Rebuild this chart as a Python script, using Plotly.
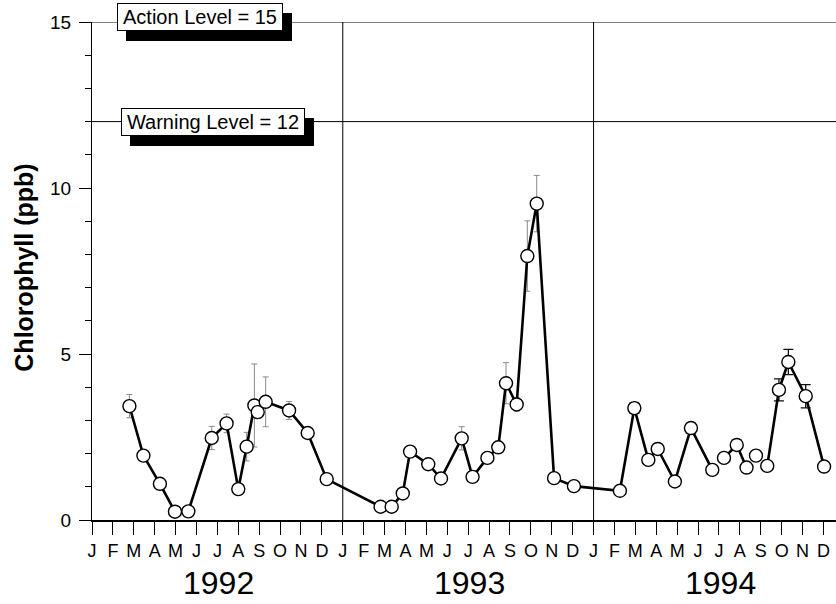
import plotly.graph_objects as go

# months since Jan 1992 (0 = Jan 1992)
months_1992 = [1.79, 2.46, 3.25, 3.97, 4.61, 5.73, 6.44, 7.00, 7.40, 7.77, 7.93, 8.31, 9.43, 10.32, 11.23]
chl_1992 = [3.43, 1.94, 1.09, 0.25, 0.26, 2.47, 2.91, 0.93, 2.21, 3.45, 3.25, 3.56, 3.30, 2.62, 1.23]
err_1992 = [0.35, 0.05, 0.05, 0.10, 0.10, 0.35, 0.28, 0.05, 0.43, 1.25, 0.10, 0.75, 0.27, 0.15, 0.08]

months_1993 = [13.81, 14.34, 14.87, 15.22, 16.09, 16.70, 17.69, 18.21, 18.92, 19.44, 19.81, 20.32, 20.83, 21.28, 22.11, 23.06]
chl_1993 = [0.40, 0.40, 0.80, 2.06, 1.68, 1.25, 2.46, 1.30, 1.87, 2.19, 4.12, 3.48, 7.95, 9.53, 1.26, 1.02]
err_1993 = [0.08, 0.08, 0.10, 0.05, 0.05, 0.05, 0.35, 0.12, 0.12, 0.15, 0.62, 0.20, 1.06, 0.85, 0.05, 0.05]

months_1994 = [25.26, 25.95, 26.62, 27.07, 27.89, 28.66, 29.68, 30.24, 30.85, 31.32, 31.77, 32.31, 32.87, 33.32, 34.15, 35.03]
chl_1994 = [0.88, 3.37, 1.81, 2.14, 1.16, 2.77, 1.51, 1.87, 2.26, 1.58, 1.94, 1.63, 3.92, 4.76, 3.73, 1.61]
err_1994 = [0.03, 0.15, 0.05, 0.05, 0.05, 0.15, 0.05, 0.10, 0.15, 0.10, 0.00, 0.00, 0.33, 0.38, 0.35, 0.00]
# line group ids (line is broken between groups)
group_1994 = [0, 0, 0, 0, 0, 0, 0, 1, 1, 1, 2, 3, 3, 3, 3, 3]

month_letters = ["J", "F", "M", "A", "M", "J", "J", "A", "S", "O", "N", "D"]
years = ["1992", "1993", "1994"]
action_level = 15
warning_level = 12

# build connecting line (continuous 1992-1993-early 1994, with gaps in 1994)
line_x = months_1992 + months_1993
line_y = chl_1992 + chl_1993
prev = group_1994[0]
for m, v, g in zip(months_1994, chl_1994, group_1994):
    if g != prev:
        line_x.append(None)
        line_y.append(None)
        prev = g
    line_x.append(m)
    line_y.append(v)

all_x = months_1992 + months_1993 + months_1994
all_y = chl_1992 + chl_1993 + chl_1994

FONT = "Liberation Sans, Arial, Helvetica, sans-serif"

fig = go.Figure()

# error bars (light for 1992-93, dark for 1994)
fig.add_trace(go.Scatter(
    x=months_1992 + months_1993, y=chl_1992 + chl_1993, mode="markers",
    marker=dict(size=1, color="rgba(0,0,0,0)"),
    error_y=dict(type="data", array=err_1992 + err_1993, color="#8a8a8a", thickness=1, width=3),
    hoverinfo="skip", showlegend=False, cliponaxis=False))
fig.add_trace(go.Scatter(
    x=months_1994, y=chl_1994, mode="markers",
    marker=dict(size=1, color="rgba(0,0,0,0)"),
    error_y=dict(type="data", array=err_1994, color="#111", thickness=1.3, width=5),
    hoverinfo="skip", showlegend=False, cliponaxis=False))

fig.add_trace(go.Scatter(
    x=line_x, y=line_y, mode="lines", line=dict(color="black", width=2.6),
    connectgaps=False, hoverinfo="skip", showlegend=False, cliponaxis=False))
fig.add_trace(go.Scatter(
    x=all_x, y=all_y, mode="markers",
    marker=dict(size=13, color="white", line=dict(color="black", width=1.4)),
    showlegend=False, cliponaxis=False))

shapes = []
for lvl in [action_level, warning_level]:
    shapes.append(dict(type="line", xref="paper", yref="y", x0=0, x1=1, y0=lvl, y1=lvl,
                       line=dict(color="black", width=1), layer="below"))
for yb in [12, 24]:
    shapes.append(dict(type="line", xref="x", yref="y", x0=yb, x1=yb, y0=0, y1=action_level,
                       line=dict(color="black", width=1), layer="below"))

annotations = []
labels = [(f"Action Level = {action_level}", action_level, 5.15, 5, 164),
          (f"Warning Level = {warning_level}", warning_level, 5.78, 0, 182)]
for text, lvl, xc, ysh, w in labels:
    # drop shadow (blank box)
    annotations.append(dict(x=xc, y=lvl, xref="x", yref="y", text=" ", showarrow=False,
                            font=dict(family=FONT, size=20, color="black"),
                            bgcolor="black", bordercolor="black", borderwidth=1, borderpad=0,
                            width=w, height=26, xshift=9, yshift=ysh - 10))
    annotations.append(dict(x=xc, y=lvl, xref="x", yref="y", text=text, showarrow=False,
                            font=dict(family=FONT, size=20, color="black"),
                            bgcolor="white", bordercolor="black", borderwidth=1, borderpad=0,
                            width=w, height=26, yshift=ysh))

for i, yr in enumerate(years):
    annotations.append(dict(x=12 * i + 6.05, y=0, xref="x", yref="paper", text=yr, showarrow=False,
                            yanchor="bottom", yshift=-83,
                            font=dict(family=FONT, size=32, color="black")))

annotations.append(dict(x=0, y=7.6, xref="paper", yref="y", text="<b>Chlorophyll (ppb)</b>",
                        showarrow=False, textangle=-90, xanchor="center", yanchor="middle",
                        xshift=-68, font=dict(family=FONT, size=25, color="black")))

fig.update_layout(
    width=836, height=604,
    margin=dict(l=92, r=0, t=22, b=84),
    paper_bgcolor="white", plot_bgcolor="white",
    shapes=shapes, annotations=annotations,
    font=dict(family=FONT, color="black"),
    xaxis=dict(range=[0, 35.6], tickvals=list(range(36)), ticktext=month_letters * 3,
               ticks="outside", ticklen=13, tickwidth=1, tickcolor="black",
               showline=True, linecolor="black", linewidth=1.5,
               showgrid=False, zeroline=False, tickfont=dict(size=18, family=FONT),
               ticklabelstandoff=1),
    yaxis=dict(range=[0, 15], tickvals=[0, 5, 10, 15], ticks="outside", ticklen=12,
               tickwidth=1, tickcolor="black", showline=True, linecolor="black", linewidth=1,
               showgrid=False, zeroline=False, tickfont=dict(size=19, family=FONT),
               minor=dict(dtick=1, ticks="outside", ticklen=6, tickcolor="black", tickwidth=1),
               ticklabelstandoff=4),
)

fig.write_html("out.html")
